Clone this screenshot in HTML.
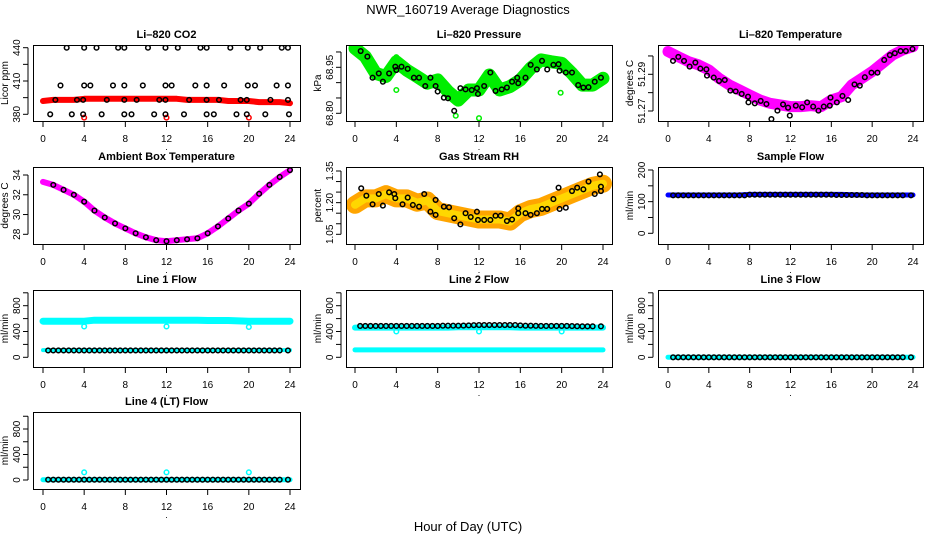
<!DOCTYPE html>
<html><head><meta charset="utf-8">
<style>
html,body{margin:0;padding:0;background:#fff;}
svg{display:block;font-family:"Liberation Sans",Arial,sans-serif;}
</style></head>
<body>
<svg id="chart" width="936" height="540" viewBox="0 0 936 540" xmlns="http://www.w3.org/2000/svg">
<rect width="936" height="540" fill="#fff"/>
<text x="468" y="14" font-size="13" text-anchor="middle">NWR_160719  Average Diagnostics</text>
<text x="468" y="531" font-size="13" text-anchor="middle">Hour of Day (UTC)</text>
</svg>
<script>
// ---------- data ----------
const hours = [0,1,2,3,4,5,6,7,8,9,10,11,12,13,14,15,16,17,18,19,20,21,22,23,24];
const halfHours = [0.5,1,1.5,2,2.5,3,3.5,4,4.5,5,5.5,6,6.5,7,7.5,8,8.5,9,9.5,10,10.5,11,11.5,12,12.5,13,13.5,14,14.5,15,15.5,16,16.5,17,17.5,18,18.5,19,19.5,20,20.5,21,21.5,22,22.5,23,23.8];

// CO2
const co2Band = [392,393,393,393,394,394,394,394,394,394,394,394,394,394,393,393,393,393,392,392,392,391,391,391,390];
const co2BlackHours = [2.3,4.0,5.2,7.3,7.9,10.2,11.9,13.1,15.3,15.9,18.2,19.9,21.1,23.2,23.8, 1.7,4.0,4.6,6.8,7.9,9.7,11.9,12.5,14.8,15.9,17.6,19.9,20.6,22.7,23.8, 1.2,3.3,3.9,6.2,7.9,9.1,11.3,11.9,14.2,15.9,17.1,19.2,19.8,22.1,23.8, 0.7,2.8,3.9,5.7,7.9,8.6,10.8,11.9,13.7,15.9,16.6,18.8,19.8,21.6,23.9];
const co2BlackVals = [440,440,440,440,440,440,440,440,440,440,440,440,440,440,440, 406,406,406,406,406,406,406,406,406,406,406,406,406,406,406, 393,393,393,393,393,393,393,393,393,393,393,393,393,393,393, 380,380,380,380,380,380,380,380,380,380,380,380,380,380,380];
const co2RedHours = [4,12,20];
const co2RedVals = [377,377,377];

// Pressure
const presBand = [69.012,68.985,68.930,68.920,68.968,68.941,68.920,68.898,68.909,68.871,68.843,68.876,68.876,68.925,68.876,68.887,68.909,68.947,68.974,68.968,68.963,68.930,68.892,68.892,68.914];
const presBlackHours = [0.55,1.2,1.7,2.3,2.7,3.3,3.9,4.0,4.5,5.1,5.7,6.2,6.8,7.3,7.8,8.0,8.6,9.0,9.6,10.2,10.7,11.3,11.8,11.9,12.5,13.1,13.6,14.2,14.7,15.2,15.7,15.8,16.5,17.0,17.6,18.1,18.6,19.2,19.7,19.8,20.4,21.0,21.6,22.1,22.6,23.2,23.8];
const presBlackVals = [69.003,68.985,68.916,68.930,68.903,68.930,68.952,68.941,68.952,68.945,68.916,68.916,68.889,68.916,68.889,68.871,68.851,68.849,68.808,68.882,68.878,68.876,68.882,68.863,68.889,68.933,68.873,68.878,68.884,68.903,68.916,68.898,68.916,68.958,68.943,68.971,68.943,68.958,68.960,68.939,68.933,68.933,68.892,68.884,68.885,68.903,68.916];
const presGreenHours = [4.0,4.0,12.0,19.9,9.75];
const presGreenVals = [68.983,68.876,68.784,68.867,68.792];

// Li-820 temperature
const tempBand = [51.3024,51.2996,51.2969,51.2951,51.2924,51.2878,51.2842,51.2815,51.2787,51.2760,51.2742,51.2733,51.2724,51.2724,51.2729,51.2724,51.2760,51.2778,51.2842,51.2878,51.2915,51.2960,51.3005,51.3033,51.3051];
const tempBlackHours = [0.49,1.01,1.57,2.12,2.68,3.17,3.76,3.82,4.48,5.0,5.56,6.11,6.63,7.22,7.84,7.88,8.5,9.08,9.64,10.13,10.72,11.27,11.76,11.93,12.52,13.14,13.63,14.22,14.74,15.26,15.85,15.92,16.54,17.09,17.65,18.27,18.79,19.28,19.93,20.52,21.18,21.73,22.22,22.78,23.3,23.95];
const tempBlackVals = [51.2973,51.2995,51.2973,51.2942,51.2964,51.2931,51.2927,51.2893,51.2882,51.2864,51.2869,51.2811,51.2807,51.2793,51.2778,51.2747,51.2742,51.2755,51.2738,51.2656,51.2702,51.2736,51.2718,51.2675,51.2729,51.2720,51.2747,51.2724,51.2702,51.2724,51.2729,51.2773,51.2747,51.2782,51.2760,51.2845,51.2838,51.2884,51.2909,51.2909,51.2978,51.3005,51.3015,51.3027,51.3027,51.3038];

// Ambient box temperature
const ambVals = [33.3,33.0,32.5,32.0,31.3,30.4,29.7,29.1,28.6,28.1,27.7,27.4,27.3,27.4,27.5,27.6,28.1,28.8,29.6,30.4,31.1,32.1,33.0,33.8,34.5];

// Gas stream RH
const rhBand = [1.19,1.22,1.22,1.24,1.22,1.22,1.20,1.21,1.16,1.15,1.14,1.13,1.12,1.12,1.12,1.11,1.15,1.17,1.18,1.20,1.22,1.24,1.26,1.28,1.29];
const rhBlackHours = [0.6,1.1,1.7,2.3,2.7,3.3,3.8,3.9,4.6,5.1,5.6,6.2,6.7,7.3,7.8,7.8,8.6,9.1,9.6,10.2,10.7,11.2,11.8,11.9,12.5,13.1,13.6,14.1,14.7,15.2,15.8,15.8,16.5,17.0,17.6,18.1,18.6,19.2,19.7,19.8,20.4,21.0,21.5,22.1,22.6,23.2,23.7,23.8,23.8];
const rhBlackVals = [1.268,1.233,1.192,1.241,1.186,1.249,1.241,1.221,1.192,1.224,1.189,1.181,1.241,1.157,1.142,1.213,1.181,1.178,1.126,1.097,1.150,1.132,1.157,1.118,1.118,1.118,1.138,1.138,1.113,1.120,1.173,1.150,1.150,1.142,1.150,1.170,1.170,1.217,1.271,1.170,1.176,1.255,1.271,1.263,1.300,1.241,1.334,1.276,1.255];

// Flows
const sampleBand = [121,121,121,121,121,121,121,121,123,123,123,123,123,123,123,123,123,123,122,121,121,121,121,121,121];
const sampleBlack = [120,120,120,120,120,120,120,120,120,120,120,120,120,120,120,122,122,122,122,122,122,122,122,122,122,122,122,122,122,122,122,122,121,121,121,121,121,121,120,120,120,120,120,120,120,120,120];
const line1High = [560,560,560,560,560,575,575,575,575,575,575,575,575,575,575,575,570,570,570,565,560,560,560,560,560];
const line1Low = [112,112,112,112,112,112,112,112,112,112,112,112,112,112,112,112,112,112,112,112,112,112,112,112,112];
const line1Black = [106,106,106,106,106,106,106,106,106,106,106,106,106,106,106,106,106,106,106,106,106,106,106,106,106,106,106,106,106,106,106,106,106,106,106,106,106,106,106,106,106,106,106,106,106,106,106];
const line1OutHours = [4,12,20];
const line1OutVals = [478,478,470];
const line2High = [460,460,460,460,460,460,460,460,460,460,465,465,465,465,465,465,460,460,460,460,460,460,460,460,460];
const line2Low = [115,115,115,115,115,115,115,115,115,115,115,115,115,115,115,115,115,115,115,115,115,115,115,115,115];
const line2Black = [486,486,486,486,486,486,486,486,486,486,486,486,486,486,486,486,490,490,490,490,492,495,498,500,500,500,500,500,500,500,500,495,490,490,488,486,486,486,486,486,486,484,482,480,480,480,480];
const line2OutHours = [4,12,20];
const line2OutVals = [400,400,400];
const line3Band = [2,2,2,2,2,2,2,2,2,2,2,2,2,2,2,2,2,2,2,2,2,2,2,2,2];
const line3Black = [0,0,0,0,0,0,0,0,0,0,0,0,0,0,0,0,0,0,0,0,0,0,0,0,0,0,0,0,0,0,0,0,0,0,0,0,0,0,0,0,0,0,0,0,0,0,0];
const line4Band = [5,5,5,5,5,5,5,5,5,5,5,5,5,5,5,5,5,5,5,5,5,5,5,5,5];
const line4Black = [5,5,5,5,5,5,5,5,5,5,5,5,5,5,5,5,5,5,5,5,5,5,5,5,5,5,5,5,5,5,5,5,5,5,5,5,5,5,5,5,5,5,5,5,5,5,5];
const line4OutHours = [4,12,20];
const line4OutVals = [120,120,120];

const xTicks = [0,4,8,12,16,20,24];

// ---------- drawing ----------
const NS = 'http://www.w3.org/2000/svg';
const svg = document.getElementById('chart');
function mk(tag, attrs, parent){
  const e = document.createElementNS(NS, tag);
  for (const k in attrs) e.setAttribute(k, attrs[k]);
  (parent||svg).appendChild(e);
  return e;
}
const cols = [{l:33,r:300,x0:43,x24:290},{l:346,r:612,x0:355,x24:603},{l:658,r:923,x0:668,x24:913}];
const rows = [{t:45,b:121},{t:167,b:244},{t:290,b:367},{t:412,b:489}];

function panel(name, title, ylab, col, row, yv1, yp1, yv2, yp2, ticks, labels){
  const C = cols[col], R = rows[row];
  const g = mk('g', {});
  
  
  const sx = h => C.x0 + (C.x24 - C.x0) * h / 24;
  const sy = v => yp1 + (yp2 - yp1) * (v - yv1) / (yv2 - yv1);
  const clipId = 'clip-' + name;
  const cp = mk('clipPath', {id: clipId}, g);
  mk('rect', {x:C.l, y:R.t, width:C.r-C.l, height:R.b-R.t}, cp);
  const plot = mk('g', {'clip-path':'url(#'+clipId+')'}, g);
  
  
  const box = mk('rect', {x:C.l+0.5, y:R.t+0.5, width:C.r-C.l, height:R.b-R.t, fill:'none', stroke:'#000', 'stroke-width':1}, g);
  
  
  const t = mk('text', {x:(C.l+C.r)/2, y:R.t-7, 'font-size':11, 'font-weight':'bold', 'text-anchor':'middle'}, g);
  t.textContent = title;
  
  
  // x axis
  xTicks.forEach(h => {
    const x = sx(h);
    mk('line', {x1:x, x2:x, y1:R.b, y2:R.b+6, stroke:'#000'}, g);
    const tx = mk('text', {x:x, y:R.b+21, 'font-size':10, 'text-anchor':'middle'}, g);
    tx.textContent = h;
    
    
  });
  const dot = mk('text', {x:(C.x0+C.x24)/2, y:R.b+29, 'font-size':9, 'text-anchor':'middle'}, g);
  dot.textContent = '.';
  // y axis
  const yt = ticks.map(sy);
  mk('line', {x1:C.l-5, x2:C.l-5, y1:Math.min(...yt), y2:Math.max(...yt), stroke:'#000'}, g);
  ticks.forEach((v,i) => {
    const y = sy(v);
    mk('line', {x1:C.l-10, x2:C.l-5, y1:y, y2:y, stroke:'#000'}, g);
    if (labels[i] !== '') {
      const ty = mk('text', {x:C.l-13, y:y, 'font-size':10, 'text-anchor':'middle', transform:'rotate(-90 '+(C.l-13)+' '+y+')'}, g);
      ty.textContent = labels[i];
      
      
    }
  });
  const yl = mk('text', {x:C.l-25, y:(R.t+R.b)/2, 'font-size':10, 'text-anchor':'middle', transform:'rotate(-90 '+(C.l-25)+' '+((R.t+R.b)/2)+')'}, g);
  yl.textContent = ylab;
  
  
  return {plot, sx, sy};
}
function band(P, xs, vs, color, w, nm){
  const pts = xs.map((h,i) => P.sx(h).toFixed(1)+','+P.sy(vs[i]).toFixed(1)).join(' ');
  const pl = mk('polyline', {points:pts, fill:'none', stroke:color, 'stroke-width':w, 'stroke-linecap':'round', 'stroke-linejoin':'round'}, P.plot);
  
  
}
function pts(P, xs, vs, color, nm){
  xs.forEach((h,i) => {
    const c = mk('circle', {cx:P.sx(h), cy:P.sy(vs[i]), r:2.3, fill:'none', stroke:color, 'stroke-width':1.5}, P.plot);
    
    
  });
}

let P;
P = panel('co2','Li–820 CO2','Licor ppm',0,0,380,114.3,440,47.7,[380,395,410,425,440],['380','','410','','440']);
band(P, hours, co2Band, '#ff0000', 6, 'co2-raw-band');
pts(P, co2RedHours, co2RedVals, '#ff0000', 'co2-raw-point');
pts(P, co2BlackHours, co2BlackVals, '#000', 'co2-avg-point');

P = panel('pressure','Li–820 Pressure','kPa',1,0,68.80,113.3,68.95,67.3,[68.80,68.85,68.90,68.95,69.00],['68.80','','','68.95','']);
band(P, hours, presBand, '#00ee00', 13, 'pressure-raw-band');
pts(P, presGreenHours, presGreenVals, '#00ee00', 'pressure-raw-point');
pts(P, presBlackHours, presBlackVals, '#000', 'pressure-avg-point');

P = panel('li820-temp','Li–820 Temperature','degrees C',2,0,51.27,111,51.29,74.3,[51.27,51.28,51.29,51.30],['51.27','','51.29','']);
band(P, hours, tempBand, '#ff00ff', 11, 'li820-temp-raw-band');
pts(P, tempBlackHours, tempBlackVals, '#000', 'li820-temp-avg-point');

P = panel('ambient','Ambient Box Temperature','degrees C',0,1,28,234.3,34,175,[28,30,32,34],['28','30','32','34']);
band(P, hours, ambVals, '#ff00ff', 6, 'ambient-raw-band');
pts(P, hours.slice(1), ambVals.slice(1), '#000', 'ambient-avg-point');

P = panel('rh','Gas Stream RH','percent',1,1,1.05,234.3,1.35,171,[1.05,1.10,1.15,1.20,1.25,1.30,1.35],['1.05','','','1.20','','','1.35']);
band(P, hours, rhBand, '#ffa500', 18, 'rh-raw-band-orange');
band(P, hours, rhBand, '#ffd700', 8, 'rh-raw-band-yellow');
pts(P, rhBlackHours, rhBlackVals, '#000', 'rh-avg-point');

P = panel('sample-flow','Sample Flow','ml/min',2,1,0,233.3,200,170,[0,50,100,150,200],['0','','100','','200']);
band(P, hours, sampleBand, '#0000ff', 5, 'sample-flow-raw-band');
pts(P, halfHours, sampleBlack, '#000', 'sample-flow-avg-point');

P = panel('line1','Line 1 Flow','ml/min',0,2,0,357.3,800,305.7,[0,200,400,600,800,1000],['0','','400','','800','']);
band(P, hours, line1High, '#00ffff', 7, 'line1-raw-band-high');
band(P, hours, line1Low, '#00ffff', 4, 'line1-raw-band-low');
pts(P, line1OutHours, line1OutVals, '#00ffff', 'line1-raw-point');
pts(P, halfHours, line1Black, '#000', 'line1-avg-point');

P = panel('line2','Line 2 Flow','ml/min',1,2,0,357.3,800,305.7,[0,200,400,600,800,1000],['0','','400','','800','']);
band(P, hours, line2High, '#00ffff', 6, 'line2-raw-band-high');
band(P, hours, line2Low, '#00ffff', 5, 'line2-raw-band-low');
pts(P, line2OutHours, line2OutVals, '#00ffff', 'line2-raw-point');
pts(P, halfHours, line2Black, '#000', 'line2-avg-point');

P = panel('line3','Line 3 Flow','ml/min',2,2,0,357.3,800,305.7,[0,200,400,600,800,1000],['0','','400','','800','']);
band(P, hours, line3Band, '#00ffff', 5, 'line3-raw-band');
pts(P, halfHours, line3Black, '#000', 'line3-avg-point');

P = panel('line4','Line 4 (LT) Flow','ml/min',0,3,0,480,800,429,[0,200,400,600,800,1000],['0','','400','','800','']);
band(P, hours, line4Band, '#00ffff', 5, 'line4-raw-band');
pts(P, line4OutHours, line4OutVals, '#00ffff', 'line4-raw-point');
pts(P, halfHours, line4Black, '#000', 'line4-avg-point');
</script>
</body></html>
